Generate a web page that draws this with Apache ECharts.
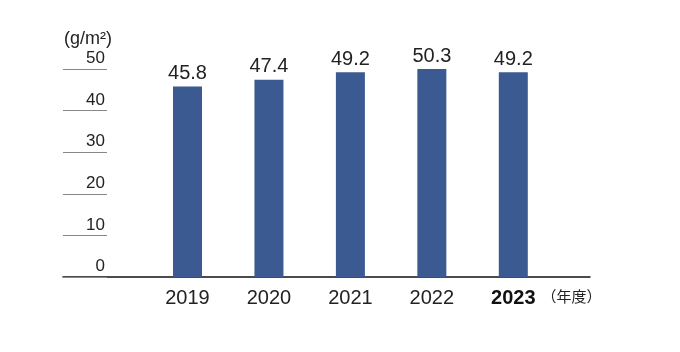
<!DOCTYPE html>
<html>
<head>
<meta charset="utf-8">
<script src="https://cdn.jsdelivr.net/npm/echarts@6/dist/echarts.min.js"></script>
<style>
  html, body { margin: 0; padding: 0; background: #fff; }
  #chart { width: 680px; height: 352px; }
</style>
</head>
<body>
<div id="chart"></div>
<script>
var years = [2019, 2020, 2021, 2022, 2023];
var values = [45.8, 47.4, 49.2, 50.3, 49.2];
var yTicks = [0, 10, 20, 30, 40, 50];
var unitLabel = "(g/m²)";
var yearSuffix = "（年度）";

var chart = echarts.init(document.getElementById("chart"));
var font = "'Liberation Sans', Arial, 'Noto Sans CJK JP', sans-serif";

chart.setOption({
  backgroundColor: "#fff",
  animation: false,
  title: {
    text: unitLabel,
    left: 59,
    top: 25,
    textStyle: { fontSize: 18, fontWeight: "normal", color: "#222", fontFamily: font }
  },
  grid: { left: 63, right: 90, top: 69, bottom: 75 },
  xAxis: {
    type: "value",
    min: 2017.4715,
    max: 2023.9417,
    splitLine: { show: false },
    axisTick: { show: false },
    axisLine: { show: true, lineStyle: { color: "#111", width: 1.5 } },
    axisLabel: {
      customValues: years,
      margin: 11,
      fontSize: 20,
      color: "#222",
      fontFamily: font,
      formatter: function (v) {
        return v === years[years.length - 1] ? "{b|" + v + "}" : String(v);
      },
      rich: {
        b: { fontSize: 20, fontWeight: "bold", color: "#111", fontFamily: font }
      }
    },
    name: yearSuffix,
    nameLocation: "end",
    nameGap: -56,
    nameTextStyle: {
      fontSize: 15,
      color: "#222",
      fontFamily: font,
      verticalAlign: "top",
      padding: [13, 0, 0, 0]
    }
  },
  yAxis: {
    type: "value",
    min: yTicks[0],
    max: yTicks[yTicks.length - 1],
    interval: 10,
    splitLine: { show: false },
    axisLine: { show: false },
    axisTick: {
      show: true,
      inside: true,
      length: 44,
      lineStyle: { color: "#888", width: 1 }
    },
    axisLabel: {
      inside: true,
      margin: 42,
      align: "right",
      verticalAlign: "bottom",
      padding: [0, 0, 2, 0],
      fontSize: 17,
      color: "#222",
      fontFamily: font
    }
  },
  series: [
    {
      type: "bar",
      barWidth: 29,
      data: years.map(function (y, i) { return [y, values[i]]; }),
      itemStyle: { color: "#3b5a92" },
      label: {
        show: true,
        position: "top",
        distance: 3,
        fontSize: 20,
        color: "#222",
        fontFamily: font,
        formatter: function (p) { return p.value[1].toFixed(1); }
      }
    }
  ]
});
</script>
</body>
</html>
